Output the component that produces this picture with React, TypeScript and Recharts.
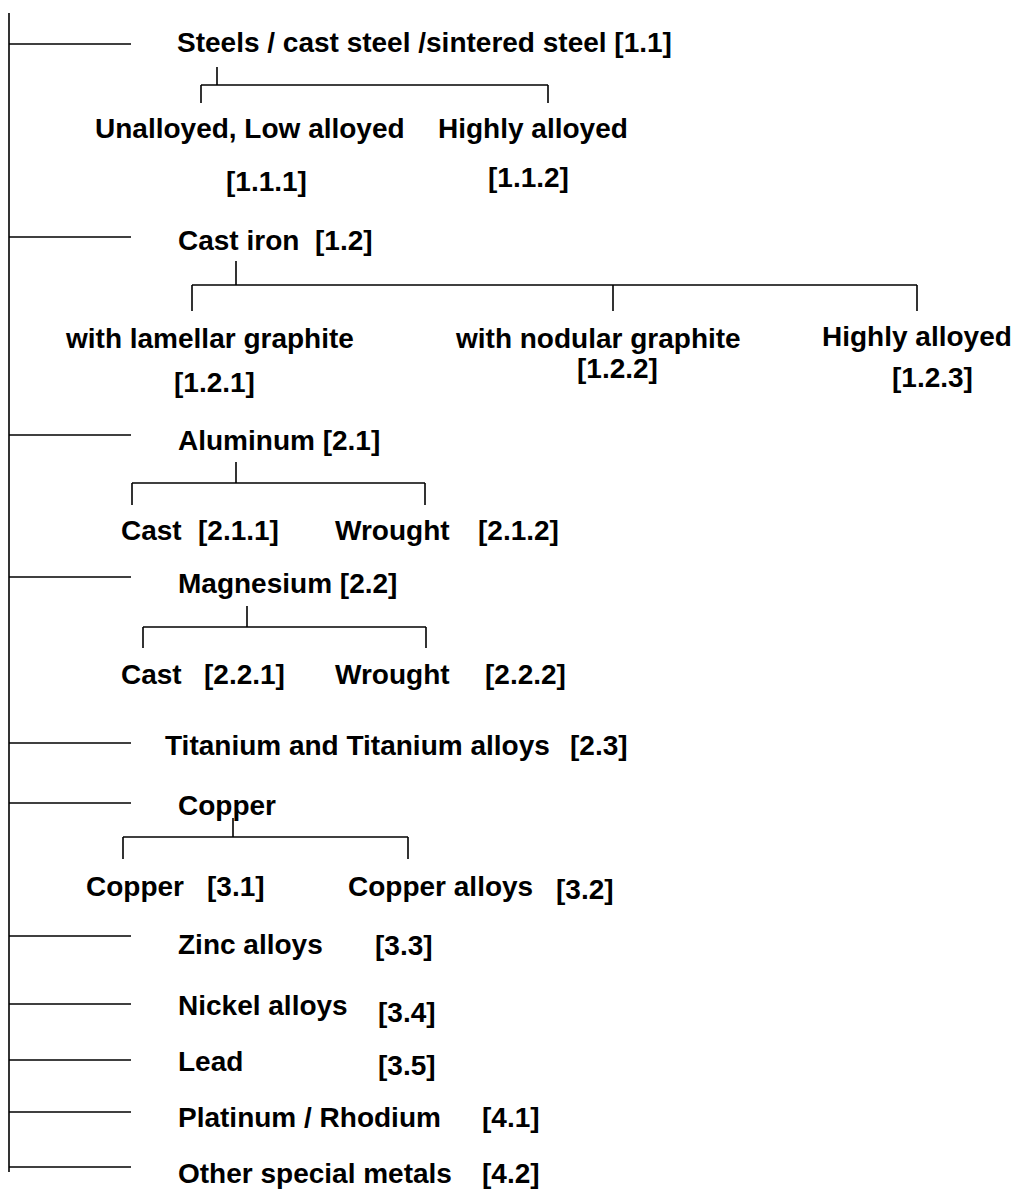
import React from "react";
import { ScatterChart, Scatter, XAxis, YAxis, ReferenceLine } from "recharts";

// Diagram coordinate space (1 unit = 1 px of the reference)
const WIDTH = 1016;
const HEIGHT = 1189;

// Trunk
const trunkX = 9;
const trunkTop = 13;
const trunkBottom = 1172;

// Top-level branch rows (y) and branch end (x)
const branchY = [44, 237, 435, 577, 743, 803, 936, 1004, 1060, 1112, 1167];
const branchEndX = 131;

// Sub-group connectors
const groupStubX = [217, 236, 236, 247, 233];
const groupStubTop = [67, 261, 462, 606, 818];
const groupBarY = [85, 285, 483, 627, 837];
const groupDrops = [
  [201, 548],
  [192, 613, 917],
  [132, 425],
  [143, 426],
  [123, 408],
];
const groupDropBottom = [103, 311, 505, 648, 859];

// Text labels
const labelText = [
  "Steels / cast steel /sintered steel [1.1]",
  "Unalloyed, Low alloyed",
  "Highly alloyed",
  "[1.1.1]",
  "[1.1.2]",
  "Cast iron",
  "[1.2]",
  "with lamellar graphite",
  "[1.2.1]",
  "with nodular graphite",
  "[1.2.2]",
  "Highly alloyed",
  "[1.2.3]",
  "Aluminum [2.1]",
  "Cast",
  "[2.1.1]",
  "Wrought",
  "[2.1.2]",
  "Magnesium [2.2]",
  "Cast",
  "[2.2.1]",
  "Wrought",
  "[2.2.2]",
  "Titanium and Titanium alloys",
  "[2.3]",
  "Copper",
  "Copper",
  "[3.1]",
  "Copper alloys",
  "[3.2]",
  "Zinc alloys",
  "[3.3]",
  "Nickel alloys",
  "[3.4]",
  "Lead",
  "[3.5]",
  "Platinum / Rhodium",
  "[4.1]",
  "Other special metals",
  "[4.2]",
];
const labelX = [
  177, 95, 438, 226, 488, 178, 315, 66, 174, 456, 577, 822, 892, 178, 121, 198,
  335, 478, 178, 121, 204, 335, 485, 165, 570, 178, 86, 207, 348, 556, 178, 375,
  178, 378, 178, 378, 178, 482, 178, 482,
];
const labelY = [
  52, 138, 138, 191, 187, 250, 250, 348, 392, 348, 378, 346, 387, 450, 540, 540,
  540, 540, 593, 684, 684, 684, 684, 755, 755, 815, 896, 896, 896, 899, 954, 955,
  1015, 1022, 1071, 1075, 1127, 1127, 1183, 1183,
];

const labelData = labelText.map((text, i) => ({ x: labelX[i], y: labelY[i], text }));

type Seg = [{ x: number; y: number }, { x: number; y: number }];
const segments: Seg[] = [];
segments.push([{ x: trunkX, y: trunkTop }, { x: trunkX, y: trunkBottom }]);
branchY.forEach((y) => segments.push([{ x: trunkX, y }, { x: branchEndX, y }]));
groupStubX.forEach((sx, g) => {
  const drops = groupDrops[g];
  segments.push([{ x: sx, y: groupStubTop[g] }, { x: sx, y: groupBarY[g] }]);
  segments.push([
    { x: Math.min(...drops), y: groupBarY[g] },
    { x: Math.max(...drops), y: groupBarY[g] },
  ]);
  drops.forEach((dx) =>
    segments.push([{ x: dx, y: groupBarY[g] }, { x: dx, y: groupDropBottom[g] }])
  );
});

const TextShape = (props: any) => (
  <text
    x={props.cx}
    y={props.cy}
    textAnchor="start"
    fontFamily="'Liberation Sans', Arial, sans-serif"
    fontWeight="bold"
    fontSize={28}
    fill="#000"
  >
    {props.payload.text}
  </text>
);

export default function App() {
  return (
    <div style={{ position: "absolute", left: 0, top: 0, background: "#fff" }}>
      <ScatterChart width={WIDTH} height={HEIGHT} margin={{ top: 0, right: 0, bottom: 0, left: 0 }}>
        <XAxis type="number" dataKey="x" domain={[0, WIDTH]} hide allowDataOverflow />
        <YAxis type="number" dataKey="y" domain={[0, HEIGHT]} reversed hide allowDataOverflow />
        {segments.map((s, i) => (
          <ReferenceLine
            key={i}
            segment={s}
            stroke="#000"
            strokeWidth={1.6}
            ifOverflow="visible"
          />
        ))}
        <Scatter data={labelData} shape={TextShape} isAnimationActive={false} />
      </ScatterChart>
    </div>
  );
}
